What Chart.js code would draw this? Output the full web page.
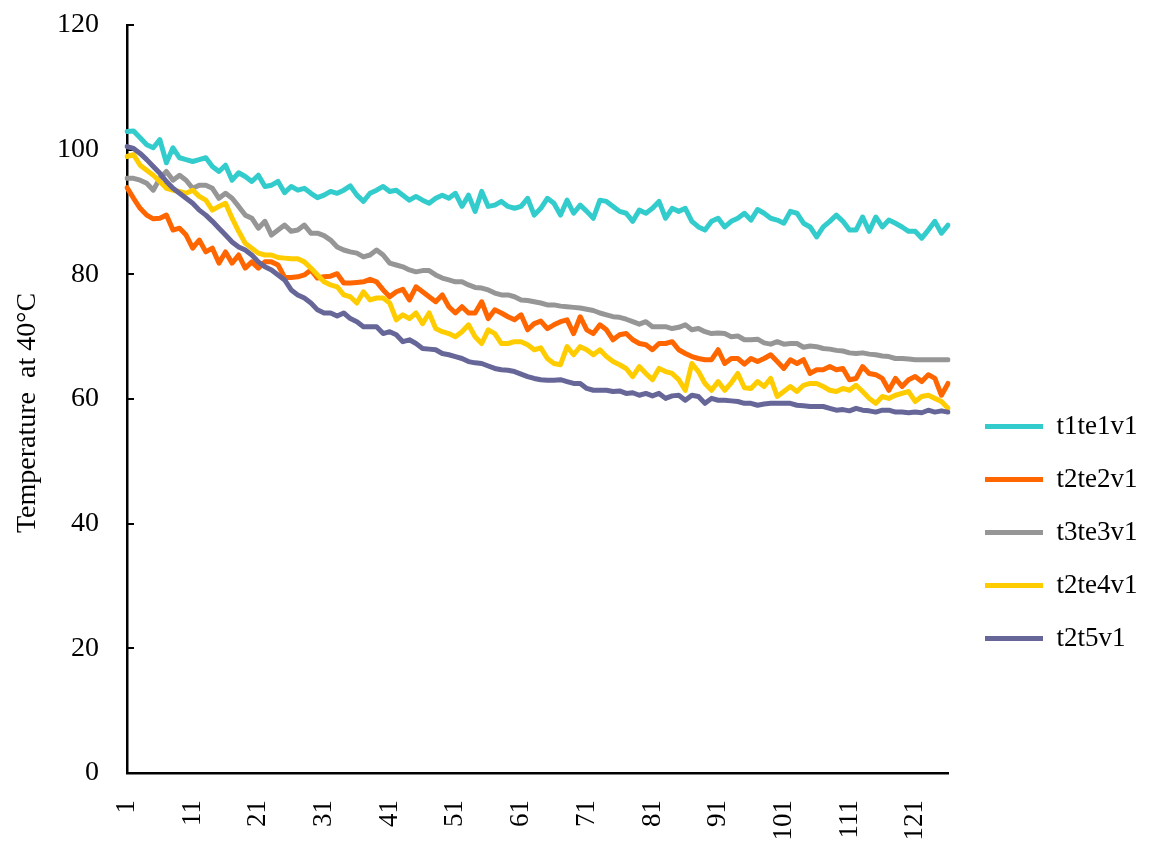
<!DOCTYPE html>
<html>
<head>
<meta charset="utf-8">
<script src="https://cdn.jsdelivr.net/npm/chart.js@4/dist/chart.umd.min.js"></script>
<style>
html,body{margin:0;padding:0;background:#fff;}
#wrap{width:1154px;height:843px;}
</style>
</head>
<body>
<div id="wrap"><canvas id="c" width="1154" height="843"></canvas></div>
<script>
const categories = Array.from({length: 126}, (_, i) => String(i + 1));

const seriesNames = ['t1te1v1', 't2te2v1', 't3te3v1', 't2te4v1', 't2t5v1'];
const seriesColors = ['#33CCCC', '#FF6600', '#969696', '#FFCC00', '#666699'];

const t1te1v1 = [
102.9,103.0,101.9,100.8,100.3,101.6,97.9,100.3,98.7,98.4,
98.1,98.4,98.7,97.3,96.5,97.5,95.1,96.3,95.7,94.9,
95.9,94.1,94.3,94.9,93.1,94.1,93.5,93.8,93.0,92.3,
92.7,93.3,93.0,93.5,94.2,92.7,91.7,93.0,93.5,94.1,
93.3,93.5,92.7,91.9,92.5,91.9,91.4,92.2,92.7,92.2,
93.0,90.9,92.7,90.1,93.3,90.9,91.1,91.7,90.9,90.6,
90.9,92.2,89.5,90.6,92.2,91.4,89.5,91.9,89.8,91.1,
90.1,89.0,91.9,91.7,90.9,90.1,89.8,88.5,90.3,89.8,
90.6,91.7,89.0,90.6,90.1,90.6,88.5,87.6,87.1,88.5,
89.0,87.6,88.5,89.0,89.8,88.7,90.4,89.8,89.0,88.7,
88.2,90.1,89.8,88.2,87.6,86.0,87.6,88.5,89.5,88.5,
87.1,87.1,89.2,86.9,89.2,87.6,88.7,88.2,87.6,86.9,
86.9,85.8,87.1,88.5,86.6,87.9];

const t2te2v1 = [
93.9,92.2,90.6,89.5,88.9,89.0,89.5,87.1,87.4,86.3,
84.2,85.5,83.6,84.2,81.8,83.6,81.8,83.1,81.0,82.0,
81.0,82.0,82.0,81.5,79.5,79.5,79.6,79.9,80.7,79.4,
79.6,79.7,80.1,78.6,78.6,78.7,78.8,79.2,78.8,77.5,
76.4,77.2,77.6,75.9,78.0,77.2,76.4,75.6,76.7,74.8,
73.8,74.8,73.8,73.8,75.6,72.9,74.3,73.8,73.2,72.7,
73.5,71.1,72.1,72.5,71.3,71.9,72.4,72.7,70.5,73.2,
71.1,70.5,71.9,71.1,69.5,70.3,70.5,69.5,68.9,68.7,
67.9,68.9,68.9,69.2,67.9,67.3,66.8,66.5,66.3,66.3,
67.9,65.7,66.5,66.5,65.6,66.5,66.0,66.5,67.1,66.0,
64.9,66.3,65.7,66.3,64.1,64.7,64.7,65.2,64.7,64.9,
63.1,63.3,65.2,64.1,63.9,63.3,61.4,63.3,62.0,63.1,
63.6,62.8,63.9,63.3,60.6,62.5];

const t3te3v1 = [
95.4,95.4,95.1,94.6,93.5,95.4,96.5,95.1,95.9,95.1,
93.8,94.3,94.3,93.8,92.2,93.0,92.2,90.9,89.5,89.0,
87.4,88.5,86.3,87.1,87.9,86.9,87.1,87.9,86.6,86.6,
86.2,85.5,84.4,83.9,83.6,83.4,82.8,83.1,83.9,83.1,
81.8,81.5,81.2,80.7,80.4,80.6,80.6,79.9,79.4,79.1,
78.8,78.8,78.3,77.9,77.8,77.5,77.0,76.7,76.7,76.4,
75.9,75.8,75.6,75.4,75.1,75.1,74.9,74.8,74.7,74.6,
74.4,74.2,73.8,73.5,73.2,73.1,72.8,72.4,72.0,72.4,
71.6,71.6,71.6,71.3,71.5,71.9,71.1,71.3,70.8,70.5,
70.6,70.5,70.0,70.1,69.5,69.5,69.6,69.0,68.8,69.2,
68.8,68.9,68.9,68.3,68.5,68.4,68.1,68.0,67.8,67.7,
67.4,67.3,67.4,67.2,67.1,66.9,66.8,66.5,66.5,66.4,
66.3,66.3,66.3,66.3,66.3,66.3];

const t2te4v1 = [
98.9,99.2,97.5,96.7,95.9,94.9,93.8,93.5,93.3,93.0,
93.5,92.5,91.9,90.3,90.9,91.4,89.0,86.9,85.0,84.2,
83.4,83.1,83.1,82.7,82.6,82.5,82.5,82.0,81.0,79.9,
78.8,78.3,78.0,76.7,76.4,75.4,77.2,75.9,76.2,76.2,
75.4,72.7,73.5,72.9,73.8,72.1,73.8,71.3,70.8,70.5,
70.0,70.8,71.9,70.0,68.9,71.1,70.5,68.9,68.9,69.2,
69.2,68.7,67.9,68.2,66.5,65.7,65.5,68.4,67.1,68.4,
67.9,67.1,67.9,66.8,66.0,65.5,64.9,63.6,65.2,64.1,
63.1,64.9,64.4,64.1,63.1,61.4,65.7,64.4,62.5,61.4,
62.8,61.4,62.6,64.1,61.8,61.7,62.8,62.0,63.3,60.4,
61.2,62.0,61.2,62.2,62.5,62.5,62.0,61.4,61.2,61.7,
61.4,62.2,61.2,60.1,59.3,60.4,60.1,60.6,60.9,61.2,
59.6,60.4,60.6,60.1,59.6,58.5];

const t2t5v1 = [
100.5,100.2,99.4,98.4,97.3,96.2,94.9,93.8,93.0,92.2,
91.4,90.3,89.5,88.5,87.4,86.3,85.2,84.4,83.9,83.1,
82.0,81.2,80.7,79.9,79.1,77.5,76.7,76.2,75.4,74.3,
73.8,73.8,73.3,73.8,72.9,72.4,71.6,71.6,71.6,70.5,
70.8,70.3,69.2,69.5,68.9,68.1,68.0,67.9,67.3,67.1,
66.8,66.5,66.0,65.8,65.7,65.3,64.9,64.7,64.6,64.4,
64.0,63.6,63.3,63.1,63.0,63.0,63.1,62.8,62.5,62.5,
61.7,61.4,61.4,61.4,61.2,61.3,60.9,61.0,60.6,60.9,
60.5,60.9,60.1,60.5,60.6,59.8,60.6,60.4,59.3,60.1,
59.8,59.8,59.7,59.6,59.3,59.3,59.0,59.2,59.3,59.3,
59.3,59.3,59.0,58.9,58.8,58.8,58.8,58.5,58.2,58.3,
58.1,58.5,58.2,58.1,57.9,58.2,58.2,57.9,57.9,57.8,
57.9,57.8,58.2,57.9,58.1,57.9];

const yTicks = [0, 20, 40, 60, 80, 100, 120];
const yTitle = 'Temperature  at 40\u00B0C    ';

const seriesData = [t1te1v1, t2te2v1, t3te3v1, t2te4v1, t2t5v1];
const FONT = 'Liberation Serif, Times New Roman, serif';

const datasets = seriesNames.map((name, i) => ({
  label: name,
  data: seriesData[i],
  borderColor: seriesColors[i],
  backgroundColor: seriesColors[i],
  borderWidth: 5,
  pointRadius: 0,
  pointHoverRadius: 0,
  tension: 0,
  fill: false,
  borderJoinStyle: 'round',
  borderCapStyle: 'round',
  order: seriesNames.length - i
}));

new Chart(document.getElementById('c'), {
  type: 'line',
  data: { labels: categories, datasets },
  options: {
    responsive: false,
    animation: false,
    events: [],
    layout: { padding: { top: 25, right: 6.5, bottom: 0, left: 0 } },
    plugins: {
      tooltip: { enabled: false },
      legend: {
        position: 'right',
        align: 'start',
        title: { display: true, text: ' ', font: { size: 10 }, padding: { top: 0, bottom: 350 } },
        labels: {
          usePointStyle: true,
          pointStyle: 'line',
          pointStyleWidth: 58,
          padding: 26,
          color: '#000',
          font: { family: FONT, size: 27 },
          sort: (a, b) => a.datasetIndex - b.datasetIndex
        }
      }
    },
    scales: {
      x: {
        type: 'category',
        grid: { display: false, drawTicks: false },
        border: { display: true, color: '#000', width: 2.5 },
        ticks: {
          autoSkip: false,
          maxRotation: 90,
          minRotation: 90,
          padding: 27,
          color: '#000',
          font: { family: FONT, size: 27 },
          callback: function (v, idx) { return idx % 10 === 0 ? categories[idx] : ''; }
        },
        afterFit: s => { s.height = 70; }
      },
      y: {
        min: yTicks[0],
        max: yTicks[yTicks.length - 1],
        afterBuildTicks: s => { s.ticks = yTicks.map(v => ({ value: v })); },
        grid: { display: true, drawOnChartArea: false, drawTicks: true, tickLength: -7, color: '#000', lineWidth: 2 },
        border: { display: true, color: '#000', width: 2.5 },
        ticks: { padding: 35, color: '#000', font: { family: FONT, size: 28 } },
        title: { display: true, text: yTitle, color: '#000', font: { family: FONT, size: 28 }, padding: { top: 11, bottom: 0 } },
        afterFit: s => { s.width = 127; s.paddingTop = 0; s.paddingBottom = 0; }
      },
      spacer: {
        type: 'linear',
        position: 'right',
        display: true,
        grid: { display: false, drawTicks: false },
        border: { display: false },
        ticks: { display: false },
        afterFit: s => { s.width = 11; s.paddingTop = 0; s.paddingBottom = 0; }
      }
    }
  }
});
</script>
</body>
</html>
